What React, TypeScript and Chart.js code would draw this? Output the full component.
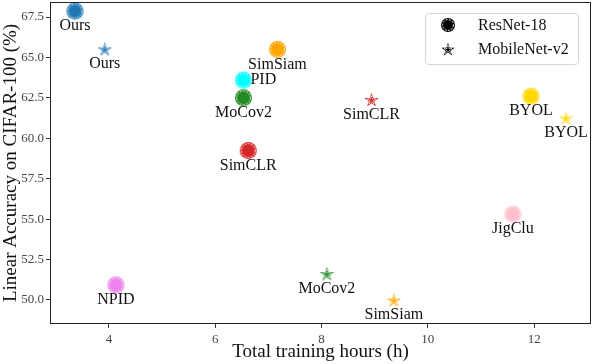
import React, { useEffect, useRef } from "react";
import { Chart, registerables } from "chart.js";

Chart.register(...registerables);

const resnetMethods = ["Ours", "SimSiam", "PID", "MoCov2", "SimCLR", "BYOL", "JigClu", "NPID"];
const resnetHours = [3.36, 7.17, 6.53, 6.53, 6.62, 11.94, 11.6, 4.13];
const resnetAcc = [67.87, 65.5, 63.6, 62.5, 59.24, 62.6, 55.3, 50.93];

const mobileMethods = ["Ours", "SimCLR", "BYOL", "MoCov2", "SimSiam"];
const mobileHours = [3.92, 8.94, 12.6, 8.1, 9.36];
const mobileAcc = [65.53, 62.4, 61.26, 51.63, 50.0];

const xTicks = [4, 6, 8, 10, 12];
const yTicks = [50, 52.5, 55, 57.5, 60, 62.5, 65, 67.5];

const methodColors: Record<string, string> = {
  Ours: "#1f77b4",
  SimSiam: "#ffa500",
  PID: "#00ffff",
  MoCov2: "#228b22",
  SimCLR: "#d62728",
  BYOL: "#ffd700",
  JigClu: "#ffc0cb",
  NPID: "#ee82ee",
};
const labelSide: Record<string, string> = { PID: "right" };

const FONT = "'Liberation Serif', 'Times New Roman', serif";

function circleImg(color: string, r = 8.5) {
  const c = document.createElement("canvas");
  const s = Math.ceil(r * 2 + 2);
  c.width = s;
  c.height = s;
  const g = c.getContext("2d")!;
  g.beginPath();
  g.arc(s / 2, s / 2, r, 0, Math.PI * 2);
  g.fillStyle = color;
  g.fill();
  g.beginPath();
  g.arc(s / 2, s / 2, r - 1.6, 0, Math.PI * 2);
  g.strokeStyle = "white";
  g.lineWidth = 0.9;
  g.setLineDash([2, 1.2]);
  g.stroke();
  return c;
}

function starPath(g: CanvasRenderingContext2D, cx: number, cy: number, R: number) {
  const ri = R * 0.382;
  g.beginPath();
  for (let i = 0; i < 10; i++) {
    const rad = i % 2 === 0 ? R : ri;
    const a = -Math.PI / 2 + (i * Math.PI) / 5;
    const x = cx + rad * Math.cos(a);
    const y = cy + rad * Math.sin(a);
    if (i === 0) g.moveTo(x, y);
    else g.lineTo(x, y);
  }
  g.closePath();
}

function starImg(color: string, R = 7.5) {
  const c = document.createElement("canvas");
  const s = Math.ceil(R * 2 + 2);
  c.width = s;
  c.height = s;
  const g = c.getContext("2d")!;
  const cx = s / 2;
  const cy = s / 2 + 0.8;
  starPath(g, cx, cy, R);
  g.fillStyle = color;
  g.fill();
  starPath(g, cx, cy, R * 0.62);
  g.strokeStyle = "white";
  g.lineWidth = 0.9;
  g.setLineDash([1.5, 0.8]);
  g.stroke();
  return c;
}

export default function App() {
  const ref = useRef<HTMLCanvasElement | null>(null);

  useEffect(() => {
    document.body.style.margin = "0";
    const canvas = ref.current!;
    const rImgs = resnetMethods.map((m) => circleImg(methodColors[m]));
    const mImgs = mobileMethods.map((m) => starImg(methodColors[m]));

    const overlay = {
      id: "overlay",
      afterDraw(chart: any) {
        const ctx = chart.ctx as CanvasRenderingContext2D;
        const { left, right, top, bottom } = chart.chartArea;
        const xs = chart.scales.x;
        const ys = chart.scales.y;
        ctx.save();
        // frame
        ctx.strokeStyle = "#222";
        ctx.lineWidth = 1;
        ctx.strokeRect(left + 0.5, top + 0.5, right - left - 1, bottom - top - 1);

        // point labels
        ctx.fillStyle = "#111";
        ctx.font = `16px ${FONT}`;
        const drawLabels = (names: string[], hx: number[], ay: number[]) => {
          names.forEach((n, i) => {
            const px = xs.getPixelForValue(hx[i]);
            const py = ys.getPixelForValue(ay[i]);
            if (labelSide[n] === "right") {
              ctx.textAlign = "left";
              ctx.textBaseline = "middle";
              ctx.fillText(n, px + 7, py);
            } else {
              ctx.textAlign = "center";
              ctx.textBaseline = "middle";
              ctx.fillText(n, px, py + 15);
            }
          });
        };
        drawLabels(resnetMethods, resnetHours, resnetAcc);
        drawLabels(mobileMethods, mobileHours, mobileAcc);

        // legend
        const lx = right - 166;
        const ly = top + 11;
        const lw = 153;
        const lh = 51;
        ctx.beginPath();
        (ctx as any).roundRect(lx + 0.5, ly + 0.5, lw, lh, 3);
        ctx.fillStyle = "rgba(255,255,255,0.8)";
        ctx.fill();
        ctx.strokeStyle = "#d6d6d6";
        ctx.lineWidth = 1;
        ctx.stroke();
        const li1 = circleImg("#000", 7);
        const li2 = starImg("#000", 7);
        ctx.drawImage(li1, lx + 23 - li1.width / 2, ly + 12 - li1.height / 2);
        ctx.drawImage(li2, lx + 23 - li2.width / 2, ly + 36 - li2.height / 2);
        ctx.fillStyle = "#111";
        ctx.font = `16px ${FONT}`;
        ctx.textAlign = "left";
        ctx.textBaseline = "middle";
        ctx.fillText("ResNet-18", lx + 53, ly + 13);
        ctx.fillText("MobileNet-v2", lx + 53, ly + 37);

        // axis titles
        ctx.font = `19px ${FONT}`;
        ctx.fillStyle = "#111";
        ctx.textAlign = "center";
        ctx.textBaseline = "middle";
        ctx.fillText("Total training hours (h)", (left + right) / 2, 352);
        ctx.translate(11, (top + bottom) / 2);
        ctx.rotate(-Math.PI / 2);
        ctx.fillText("Linear Accuracy on CIFAR-100 (%)", 0, 0);
        ctx.restore();
      },
    };

    const chart = new Chart(canvas, {
      type: "scatter",
      data: {
        datasets: [
          {
            label: "ResNet-18",
            data: resnetHours.map((h, i) => ({ x: h, y: resnetAcc[i] })),
            pointStyle: rImgs as any,
            pointRadius: 9,
          },
          {
            label: "MobileNet-v2",
            data: mobileHours.map((h, i) => ({ x: h, y: mobileAcc[i] })),
            pointStyle: mImgs as any,
            pointRadius: 9,
          },
        ],
      },
      options: {
        responsive: false,
        animation: false,
        layout: { autoPadding: false, padding: { top: 2, right: 1, left: 0, bottom: 0 } },
        plugins: { legend: { display: false }, tooltip: { enabled: false } },
        scales: {
          x: {
            type: "linear",
            min: 2.89,
            max: 13.07,
            afterBuildTicks: (s: any) => {
              s.ticks = xTicks.map((v) => ({ value: v }));
            },
            afterFit: (s: any) => {
              s.height = 40;
              s.paddingLeft = 0;
              s.paddingRight = 0;
            },
            grid: { display: true, drawOnChartArea: false, drawTicks: true, tickLength: 4, color: "#333" },
            border: { display: false },
            ticks: { color: "#444", font: { family: FONT, size: 13 }, padding: 4, maxRotation: 0 },
          },
          y: {
            type: "linear",
            min: 48.51,
            max: 68.43,
            afterBuildTicks: (s: any) => {
              s.ticks = yTicks.map((v) => ({ value: v }));
            },
            afterFit: (s: any) => {
              s.width = 50;
              s.paddingTop = 0;
              s.paddingBottom = 0;
            },
            grid: { display: true, drawOnChartArea: false, drawTicks: true, tickLength: 4, color: "#333" },
            border: { display: false },
            ticks: {
              color: "#444",
              font: { family: FONT, size: 13 },
              padding: 2,
              callback: (v: any) => Number(v).toFixed(1),
            },
          },
        },
      },
      plugins: [overlay],
    });
    return () => chart.destroy();
  }, []);

  return <canvas ref={ref} width={592} height={364} style={{ display: "block" }} />;
}
